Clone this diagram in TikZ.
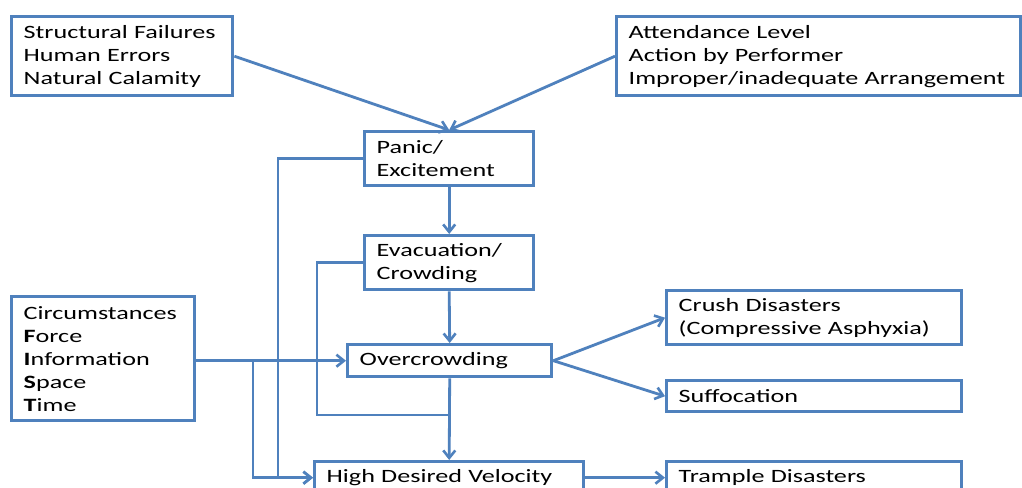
\documentclass[tikz,border=0pt]{standalone}
\usepackage{fontspec}
\setmainfont{Carlito}[FakeStretch=1.39]
\usetikzlibrary{arrows.meta}
\definecolor{bc}{HTML}{4F81BD}
\begin{document}
\begin{tikzpicture}[x=1pt,y=-1pt,
  box/.style={draw=bc, line width=3.4pt, anchor=north west, align=left,
    inner xsep=12pt, inner ysep=0pt, text=black,
    font=\fontsize{18.8}{23}\selectfont},
  conn/.style={draw=bc, line width=2.8pt,
    -{Straight Barb[length=7.5pt,width=12pt,line width=2.6pt]}},
  link/.style={draw=bc, line width=2.8pt}]
\useasboundingbox (0,0) rectangle (1022,487);
\clip (0,0) rectangle (1022,487);
\fill[white] (0,0) rectangle (1022,487);

\node[box, minimum width=221pt, minimum height=79pt, text width=197pt] (tl) at (10,15)
  {Structural Failures\\Human Errors\\Natural Calamity};
\node[box, minimum width=404pt, minimum height=79pt, text width=380pt] (tr) at (615,15)
  {Attendance Level\\Action by Performer\\\mbox{Improper/inadequate Arrangement}};
\node[box, minimum width=169pt, minimum height=54pt, text width=145pt] (panic) at (363,130)
  {Panic/\\Excitement};
\node[box, minimum width=169pt, minimum height=54pt, text width=145pt] (evac) at (363,234)
  {Evacuation/\\Crowding};
\node[box, minimum width=204pt, minimum height=32pt, text width=180pt] (over) at (346,343)
  {Overcrowding};
\node[box, minimum width=183pt, minimum height=124pt, text width=159pt] (circ) at (10,295)
  {Circumstances\\\textbf{F}orce\\\textbf{I}nformation\\\textbf{S}pace\\\textbf{T}ime};
\node[box, minimum width=295pt, minimum height=54pt, text width=271pt] (crush) at (665,289)
  {Crush Disasters\\\mbox{(Compressive Asphyxia)}};
\node[box, minimum width=295pt, minimum height=31pt, text width=271pt] (suff) at (665,379)
  {Suffocation};
\node[box, minimum width=269pt, minimum height=32pt, text width=245pt] (hdv) at (313,460)
  {High Desired Velocity};
\node[box, minimum width=295pt, minimum height=32pt, text width=271pt] (trample) at (665,460)
  {Trample Disasters};

\coordinate (ej) at (317,415);
\coordinate (jn) at (over.south |- ej);
\coordinate (br) at (253,0);

\draw[conn] (tl.east) -- (panic.north);
\draw[conn] (tr.west) -- (panic.north);
\draw[conn] (panic.south) -- (evac.north);
\draw[conn] (evac.south) -- (over.north);
\draw[conn] (over.south) -- (hdv.north);
\draw[conn] (panic.west) -| ([xshift=-35pt]hdv.west) -- (hdv.west);
\draw[link] (evac.west) -| (ej) -- (jn);
\draw[conn] (circ.east |- over.west) -- (over.west);
\draw[conn] (br |- over.west) |- (hdv.west);
\draw[conn] (over.east) -- (crush.west);
\draw[conn] (over.east) -- (suff.west);
\draw[conn] (hdv.east) -- (trample.west);
\end{tikzpicture}
\end{document}
